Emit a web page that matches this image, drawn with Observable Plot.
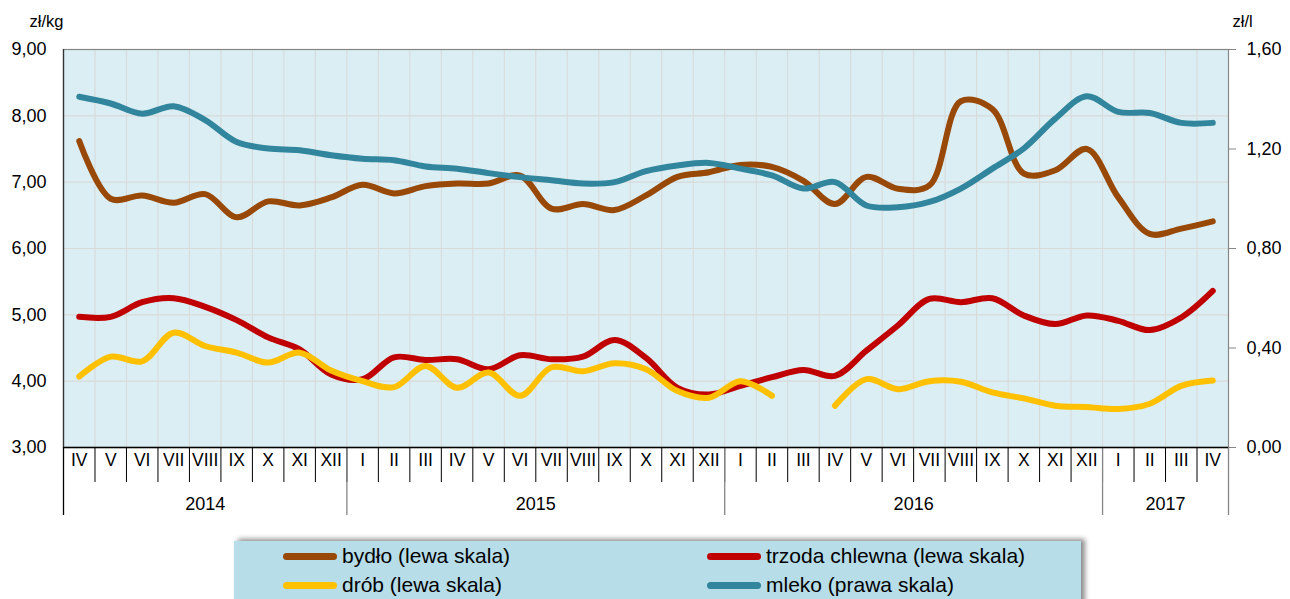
<!DOCTYPE html>
<html>
<head>
<meta charset="utf-8">
<script src="https://cdn.jsdelivr.net/npm/d3@7"></script>
<script src="https://cdn.jsdelivr.net/npm/@observablehq/plot@0.6"></script>
<style>
  html, body { margin: 0; padding: 0; background: #fff; width: 1290px; height: 599px; overflow: hidden; }
  body { position: relative; font-family: "Liberation Sans", Arial, sans-serif; }
  #chart { position: absolute; left: 0; top: 0; }
  #legend {
    position: absolute; left: 234px; top: 541px; width: 847px; height: 70px;
    background: #b7dde8; box-shadow: 4px -2px 5px rgba(0,0,0,0.45);
  }
  .item { position: absolute; display: flex; align-items: center; font-size: 21px; color: #000; white-space: nowrap; }
  .sw { width: 54px; height: 7px; border-radius: 4px; margin-right: 5px; }
</style>
</head>
<body>
<div id="chart"></div>
<div id="legend"></div>
<script>
// Month labels (IV 2014 – IV 2017)
const monthLabels = ["IV","V","VI","VII","VIII","IX","X","XI","XII",
  "I","II","III","IV","V","VI","VII","VIII","IX","X","XI","XII",
  "I","II","III","IV","V","VI","VII","VIII","IX","X","XI","XII",
  "I","II","III","IV"];
const years = ["2014","2015","2016","2017"];
const yearStart = [0, 9, 21, 33];   // index of first month of each year
const yearEnd = [8, 20, 32, 36];    // index of last month of each year

// Prices, left scale (zł/kg)
const bydlo = [7.62, 6.75, 6.80, 6.69, 6.82, 6.47, 6.71, 6.65, 6.77, 6.96, 6.83, 6.94,
  6.98, 6.98, 7.10, 6.60, 6.67, 6.58, 6.80, 7.08, 7.15, 7.26, 7.23, 7.02,
  6.67, 7.08, 6.90, 6.95, 8.22, 8.10, 7.13, 7.18, 7.50, 6.77, 6.22, 6.30, 6.41];
const trzoda = [4.97, 4.97, 5.19, 5.25, 5.12, 4.92, 4.66, 4.48, 4.10, 4.03, 4.36, 4.32,
  4.33, 4.18, 4.39, 4.33, 4.37, 4.62, 4.35, 3.90, 3.80, 3.93, 4.06, 4.17,
  4.08, 4.46, 4.84, 5.24, 5.19, 5.25, 4.99, 4.86, 4.99, 4.91, 4.77, 4.96, 5.36];
const drob = [4.07, 4.37, 4.30, 4.73, 4.53, 4.43, 4.28, 4.43, 4.16, 4.00, 3.91, 4.23,
  3.90, 4.13, 3.78, 4.21, 4.15, 4.27, 4.18, 3.85, 3.75, 4.00, 3.78, null,
  3.63, 4.03, 3.88, 4.00, 3.99, 3.83, 3.74, 3.63, 3.61, 3.58, 3.66, 3.93, 4.01];
// Milk, right scale (zł/l)
const mleko = [1.410, 1.383, 1.342, 1.372, 1.316, 1.228, 1.202, 1.195, 1.175, 1.161, 1.155, 1.130,
  1.121, 1.103, 1.087, 1.074, 1.061, 1.067, 1.111, 1.134, 1.144, 1.121, 1.094, 1.041,
  1.067, 0.973, 0.966, 0.987, 1.041, 1.121, 1.202, 1.322, 1.412, 1.349, 1.345, 1.305, 1.305];

const leftTicks = [3, 4, 5, 6, 7, 8, 9];
const rightTicks = [0, 0.4, 0.8, 1.2, 1.6];

const series = [
  {name: "bydło (lewa skala)", values: bydlo, color: "#984807", right: false},
  {name: "trzoda chlewna (lewa skala)", values: trzoda, color: "#c00000", right: false},
  {name: "drób (lewa skala)", values: drob, color: "#ffc000", right: false},
  {name: "mleko (prawa skala)", values: mleko, color: "#31859c", right: true}
];

// right axis (0–1.6) mapped linearly onto left axis (3–9)
const L0 = 3, L1 = 9, R0 = 0, R1 = 1.6;
const toLeft = v => v == null ? null : L0 + (v - R0) * (L1 - L0) / (R1 - R0);
const fromLeft = v => R0 + (v - L0) * (R1 - R0) / (L1 - L0);
const fmt = v => v.toFixed(2).replace(".", ",");

const idx = d3.range(monthLabels.length);
const bounds = d3.range(0.5, monthLabels.length - 1, 1);
const yearBounds = yearEnd.map(e => e + 0.5);
const yearCenters = yearStart.map((s, k) => (s + yearEnd[k]) / 2);

const lineMarks = series.map(s => Plot.line(s.values, {
  x: idx,
  y: s.right ? s.values.map(toLeft) : s.values,
  stroke: s.color, strokeWidth: 6, strokeLinecap: "round", strokeLinejoin: "round",
  curve: "catmull-rom"
}));

const chart = Plot.plot({
  width: 1290, height: 530,
  marginTop: 49, marginBottom: 83, marginLeft: 63, marginRight: 62,
  style: {fontFamily: "'Liberation Sans', Arial, sans-serif", fontSize: "18px", color: "#000", background: "transparent"},
  x: {type: "linear", domain: [-0.5, monthLabels.length - 0.5], axis: null},
  y: {domain: [L0, L1], axis: null},
  marks: [
    Plot.frame({fill: "#dbeef3", stroke: null}),
    Plot.gridX(bounds, {stroke: "#d9d9d9", strokeOpacity: 1, strokeWidth: 1}),
    Plot.gridY(leftTicks, {stroke: "#d9d9d9", strokeOpacity: 1, strokeWidth: 1.2}),
    Plot.frame({stroke: "#868686", strokeWidth: 1.2}),
    // left axis
    Plot.axisY(leftTicks, {anchor: "left", tickSize: 0, tickPadding: 17, tickFormat: fmt, fontSize: 18}),
    // right axis (secondary scale)
    Plot.axisY(rightTicks.map(toLeft), {anchor: "right", tickSize: 7, tickPadding: 11, stroke: "#868686",
      tickFormat: d => fmt(fromLeft(d)), fontSize: 18}),
    // month separators, month labels
    Plot.axisX(bounds, {anchor: "bottom", tickSize: 35, tickFormat: () => "", stroke: "#000"}),
    Plot.axisX(idx, {anchor: "bottom", tickSize: 0, tickPadding: 6, tickFormat: d => monthLabels[d], fontSize: 17.5}),
    // year separators, year labels
    Plot.axisX(yearBounds, {anchor: "bottom", tickSize: 68, tickFormat: () => "", stroke: "#868686", strokeWidth: 1.3}),
    Plot.axisX([-0.5], {anchor: "bottom", tickSize: 68, tickFormat: () => "", stroke: "#000", strokeWidth: 1.3}),
    Plot.axisX(yearCenters, {anchor: "bottom", tickSize: 0, tickPadding: 50, tickFormat: (d, i) => years[i], fontSize: 18}),
    Plot.ruleX([-0.5], {stroke: "#333", strokeWidth: 1.3}),
    Plot.ruleY([L0], {stroke: "#000", strokeWidth: 1.5}),
    ...lineMarks,
    // unit labels
    Plot.text(["zł/kg"], {frameAnchor: "top-left", textAnchor: "end", lineAnchor: "middle", dx: 0, dy: -28, fontSize: 16.5}),
    Plot.text(["zł/l"], {frameAnchor: "top-right", textAnchor: "start", lineAnchor: "middle", dx: 4, dy: -28, fontSize: 16.5})
  ]
});
document.getElementById("chart").appendChild(chart);

// legend
const legend = document.getElementById("legend");
const pos = [[49, 15], [473, 15], [49, 44], [473, 44]];
const order = [0, 1, 2, 3];
order.forEach((k, j) => {
  const s = series[k];
  const el = document.createElement("div");
  el.className = "item";
  el.style.left = pos[j][0] + "px";
  el.style.top = (pos[j][1] - 12) + "px";
  el.style.height = "24px";
  el.innerHTML = `<span class="sw" style="background:${s.color}"></span><span>${s.name}</span>`;
  legend.appendChild(el);
});
</script>
</body>
</html>
